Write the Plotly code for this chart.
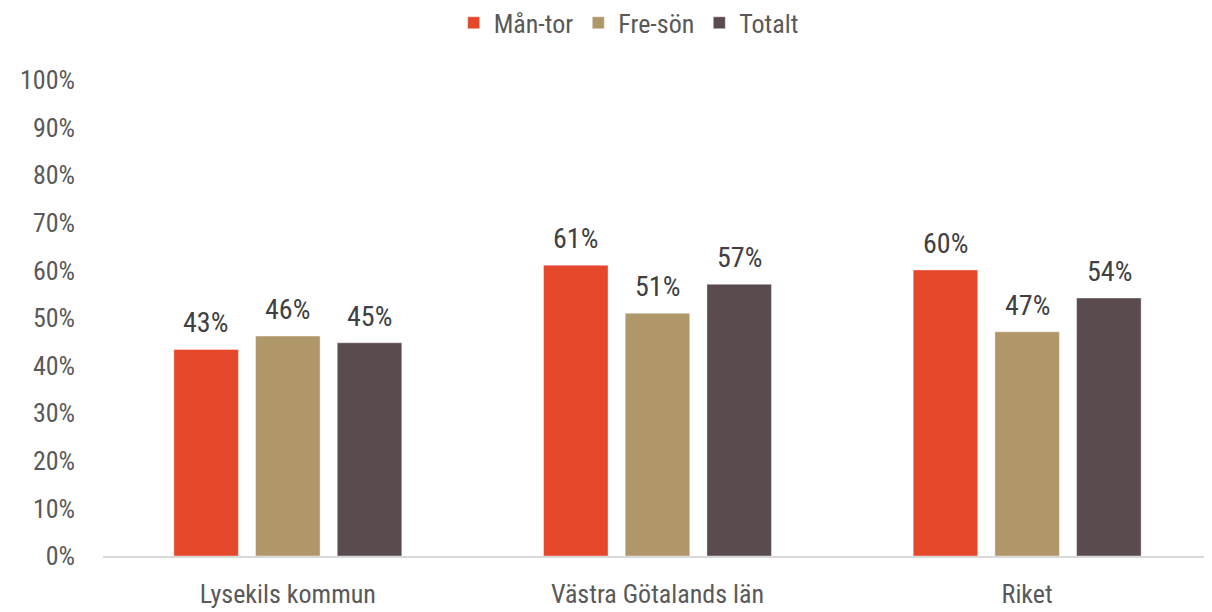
import plotly.graph_objects as go

categories = ["Lysekils kommun", "Västra Götalands län", "Riket"]
series_names = ["Mån-tor", "Fre-sön", "Totalt"]
man_tor = [0.434, 0.611, 0.601]
fre_son = [0.462, 0.510, 0.471]
totalt = [0.448, 0.571, 0.542]
colors = ["#E5472B", "#B0976A", "#5A4C4E"]
tick_vals = [i / 10 for i in range(11)]
tick_text = [f"{i*10}%" for i in range(11)]

FONT = "Roboto Condensed, DejaVu Sans Condensed, sans-serif"
SLOT_PX = 82  # pixel distance between bars inside a group

fig = go.Figure()
all_series = [man_tor, fre_son, totalt]
for si, (name, vals, col) in enumerate(zip(series_names, all_series, colors)):
    fig.add_trace(go.Bar(
        x=categories, y=vals, name=name,
        marker=dict(color=col, line=dict(color="rgba(255,255,255,0.4)", width=1)),
    ))
    for cat, v in zip(categories, vals):
        fig.add_annotation(
            x=cat, y=v, xref="x", yref="y", text=f"{round(v*100)}%",
            showarrow=False, xanchor="center", yanchor="bottom",
            xshift=(si - 1) * SLOT_PX, yshift=8,
            font=dict(family=FONT, size=28, color="#404040"),
        )

fig.update_layout(
    width=1212, height=612,
    plot_bgcolor="white", paper_bgcolor="white",
    barmode="group", bargap=0.337, bargroupgap=0.21,
    margin=dict(l=95, r=8, t=72, b=64, autoexpand=False),
    font=dict(family=FONT, color="#595959", size=26),
    legend=dict(orientation="h", x=0.474, xanchor="center", y=1.12, yanchor="middle",
                font=dict(family=FONT, size=26, color="#595959"),
                itemwidth=30, traceorder="normal"),
    xaxis=dict(showline=True, linecolor="#D9D9D9", linewidth=1.5, ticks="",
               automargin=False, ticklabelstandoff=14,
               tickfont=dict(family=FONT, size=26, color="#595959")),
    yaxis=dict(range=[0, 1], tickvals=tick_vals, ticktext=tick_text, showgrid=False,
               zeroline=False, showline=False, ticks="", ticklabelstandoff=27,
               automargin=False,
               tickfont=dict(family=FONT, size=26, color="#595959")),
)

fig.write_html("out.html")
